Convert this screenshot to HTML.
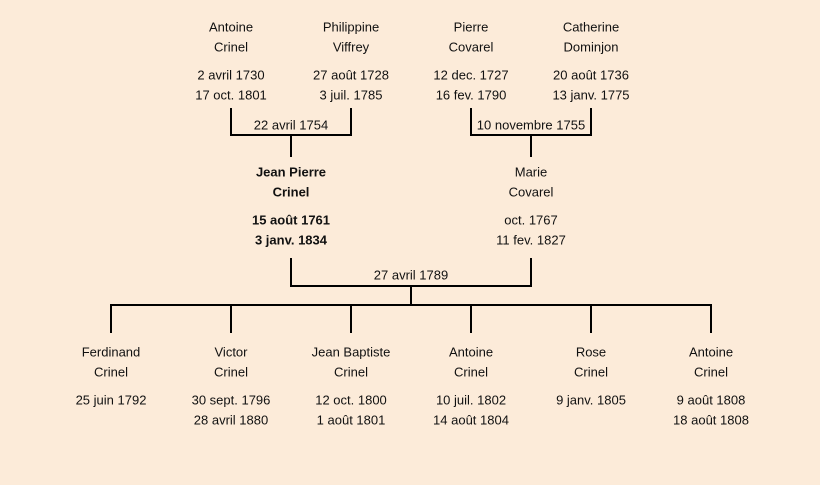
<!DOCTYPE html>
<html><head><meta charset="utf-8"><style>
html,body{margin:0;padding:0;background:#fcebd9;}
svg{display:block}
text{font-family:"Liberation Sans",sans-serif;font-size:13px;fill:#111;text-anchor:middle;dominant-baseline:central}
.b{font-weight:bold}
</style></head><body>
<svg width="820" height="485" viewBox="0 0 820 485">
<rect width="820" height="485" fill="#fcebd9"/>
<g stroke="#000" stroke-width="2" fill="none">
<path d="M231 108V135H351V108M291 135V157"/>
<path d="M471 108V135H591V108M531 135V157"/>
<path d="M291 258V286H531V258M411 286V305"/>
<path d="M111 333V305H711V333M231 305V333M351 305V333M471 305V333M591 305V333"/>
</g>
<text x="231" y="27">Antoine</text><text x="231" y="47">Crinel</text>
<text x="231" y="75">2 avril 1730</text><text x="231" y="95">17 oct. 1801</text>
<text x="351" y="27">Philippine</text><text x="351" y="47">Viffrey</text>
<text x="351" y="75">27 août 1728</text><text x="351" y="95">3 juil. 1785</text>
<text x="471" y="27">Pierre</text><text x="471" y="47">Covarel</text>
<text x="471" y="75">12 dec. 1727</text><text x="471" y="95">16 fev. 1790</text>
<text x="591" y="27">Catherine</text><text x="591" y="47">Dominjon</text>
<text x="591" y="75">20 août 1736</text><text x="591" y="95">13 janv. 1775</text>
<text x="291" y="125">22 avril 1754</text>
<text x="531" y="125">10 novembre 1755</text>
<text class="b" x="291" y="172">Jean Pierre</text><text class="b" x="291" y="192">Crinel</text>
<text class="b" x="291" y="220">15 août 1761</text><text class="b" x="291" y="240">3 janv. 1834</text>
<text x="531" y="172">Marie</text><text x="531" y="192">Covarel</text>
<text x="531" y="220">oct. 1767</text><text x="531" y="240">11 fev. 1827</text>
<text x="411" y="275">27 avril 1789</text>
<text x="111" y="352">Ferdinand</text><text x="111" y="372">Crinel</text><text x="111" y="400">25 juin 1792</text>
<text x="231" y="352">Victor</text><text x="231" y="372">Crinel</text><text x="231" y="400">30 sept. 1796</text><text x="231" y="420">28 avril 1880</text>
<text x="351" y="352">Jean Baptiste</text><text x="351" y="372">Crinel</text><text x="351" y="400">12 oct. 1800</text><text x="351" y="420">1 août 1801</text>
<text x="471" y="352">Antoine</text><text x="471" y="372">Crinel</text><text x="471" y="400">10 juil. 1802</text><text x="471" y="420">14 août 1804</text>
<text x="591" y="352">Rose</text><text x="591" y="372">Crinel</text><text x="591" y="400">9 janv. 1805</text>
<text x="711" y="352">Antoine</text><text x="711" y="372">Crinel</text><text x="711" y="400">9 août 1808</text><text x="711" y="420">18 août 1808</text>
</svg>
</body></html>
